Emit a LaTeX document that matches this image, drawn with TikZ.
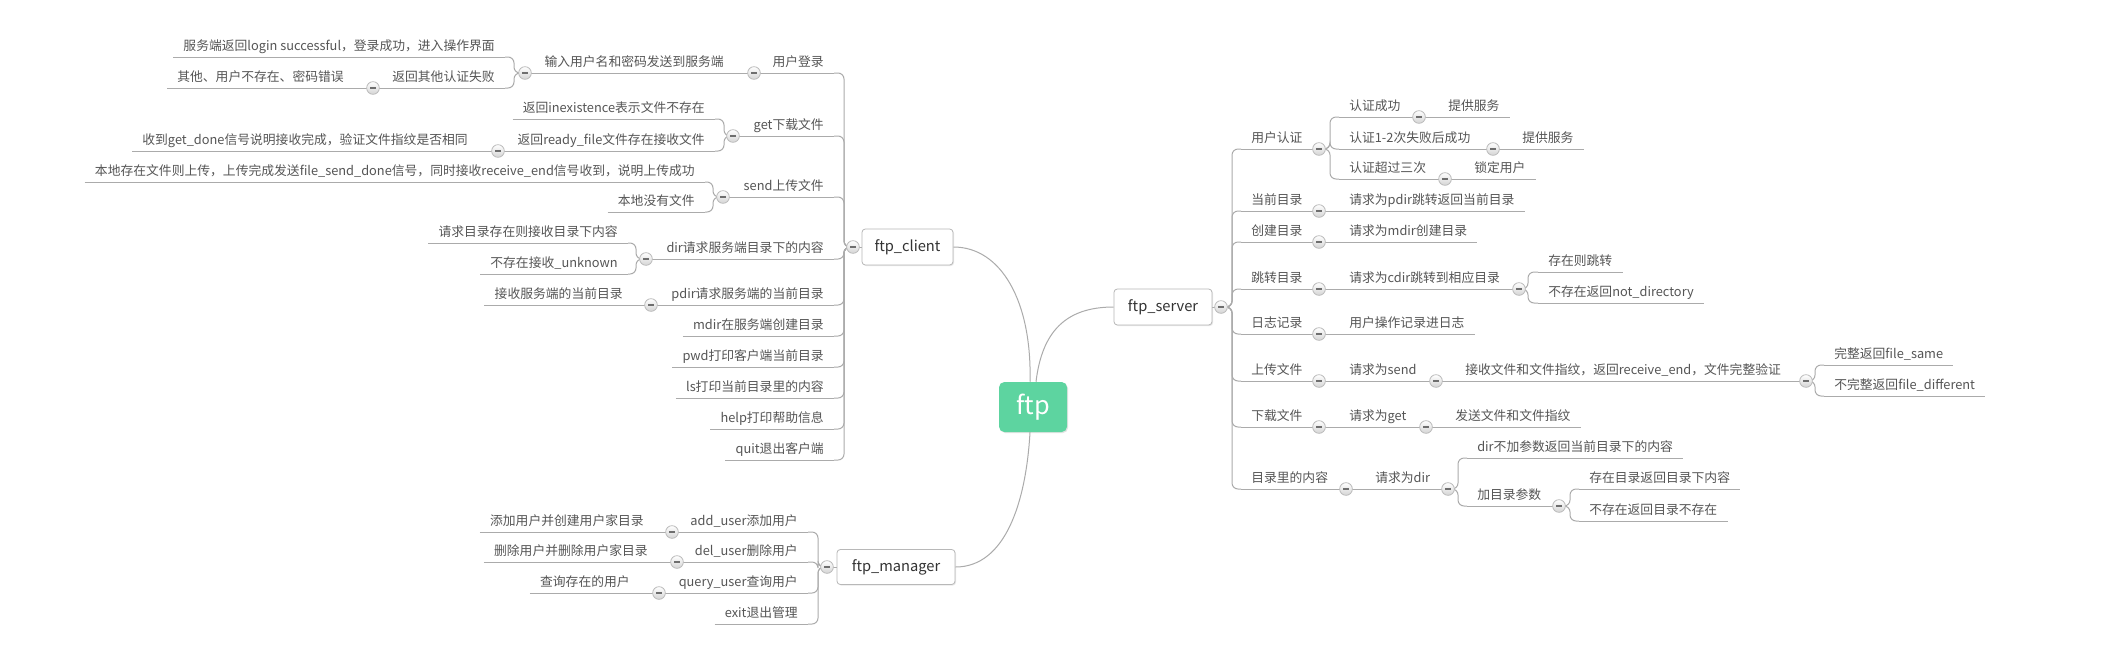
\documentclass[tikz,border=0pt]{standalone}
\usepackage{fontspec}
\setmainfont{Noto Sans CJK SC}
\usetikzlibrary{shadows}
\definecolor{txt}{HTML}{555555}
\definecolor{txtb}{HTML}{333333}
\definecolor{lncol}{HTML}{ABABAB}
\definecolor{boxb}{HTML}{B8B8B8}
\definecolor{btnb}{HTML}{BBBBBB}
\definecolor{btnf}{HTML}{D4D4D4}
\definecolor{btnm}{HTML}{6E6E6E}
\definecolor{ftpg}{HTML}{5DD4A0}
\pgfdeclarelayer{bg}
\pgfsetlayers{bg,main}
\begin{document}
\begin{tikzpicture}[x=0.75pt,y=-0.75pt,
  tbase/.style={font=\fontsize{9.6}{11}\selectfont, text=txt, inner xsep=7.5pt, inner ysep=0pt, text height=8pt, text depth=4.9pt},
  lt/.style={tbase, anchor=south east},
  rt/.style={tbase, anchor=south west},
  conn/.style={draw=lncol, line width=0.75pt, rounded corners=4.5pt},
  btn/.style={circle, draw=btnb, line width=0.6pt, minimum size=9.5pt, inner sep=0pt, top color=white, bottom color=btnf,
    path picture={\draw[btnm, line width=1.3pt] ([xshift=-2.2pt]path picture bounding box.center) -- ([xshift=2.2pt]path picture bounding box.center);}},
  mbox/.style={draw=boxb, line width=0.6pt, fill=white, rounded corners=2.5pt, inner sep=0pt, font=\fontsize{11}{13}\selectfont, text=txtb,
    drop shadow={opacity=0.18, shadow xshift=0.8pt, shadow yshift=-0.8pt}},
  rootbox/.style={fill=ftpg, rounded corners=4pt, inner sep=0pt, minimum width=51pt, minimum height=37.5pt, font=\fontsize{19}{22}\selectfont, text=white,
    drop shadow={opacity=0.22, shadow xshift=0.8pt, shadow yshift=-0.8pt}}
]
\begin{pgfonlayer}{bg}
\fill[white] (0,0) rectangle (2102,658);
\end{pgfonlayer}
\useasboundingbox (0,0) rectangle (2102,658);

% ---------- root and main branches ----------
\node[rootbox] (ftp) at (1033,407) {ftp};
\node[mbox, minimum width=68.25pt, minimum height=27pt] (client) at (907.5,247) {ftp\_client};
\node[mbox, minimum width=73.5pt, minimum height=27pt] (server) at (1163,307) {ftp\_server};
\node[mbox, minimum width=88.5pt, minimum height=26.25pt] (manager) at (896,567) {ftp\_manager};
\node[btn] (kclient) at (853,247) {};
\node[btn] (kserver) at (1221,307) {};
\node[btn] (kmanager) at (827,567) {};

% ---------- ftp_client ----------
\node[lt] (c1) at (834,73) {用户登录};
\node[btn] (kc1) at (754,73) {};
\node[lt] (c1a) at (734,73) {输入用户名和密码发送到服务端};
\node[btn] (kc1a) at (525,73) {};
\node[lt] (c1a1) at (505,57) {服务端返回login successful，登录成功，进入操作界面};
\node[lt] (c1a2) at (505,88) {返回其他认证失败};
\node[btn] (kc1a2) at (373,88) {};
\node[lt] (c1a2a) at (354,88) {其他、用户不存在、密码错误};

\node[lt] (c2) at (834,136) {get下载文件};
\node[btn] (kc2) at (733,136) {};
\node[lt] (c2a) at (715,119) {返回inexistence表示文件不存在};
\node[lt] (c2b) at (715,151) {返回ready\_file文件存在接收文件};
\node[btn] (kc2b) at (498,151) {};
\node[lt] (c2b1) at (478,151) {收到get\_done信号说明接收完成，验证文件指纹是否相同};

\node[lt] (c3) at (834,197) {send上传文件};
\node[btn] (kc3) at (723,197) {};
\node[lt] (c3a) at (705,182) {本地存在文件则上传，上传完成发送file\_send\_done信号，同时接收receive\_end信号收到，说明上传成功};
\node[lt] (c3b) at (705,212) {本地没有文件};

\node[lt] (c4) at (834,259) {dir请求服务端目录下的内容};
\node[btn] (kc4) at (646,259) {};
\node[lt] (c4a) at (628,243) {请求目录存在则接收目录下内容};
\node[lt] (c4b) at (628,274) {不存在接收\_unknown};

\node[lt] (c5) at (834,305) {pdir请求服务端的当前目录};
\node[btn] (kc5) at (651,305) {};
\node[lt] (c5a) at (633,305) {接收服务端的当前目录};

\node[lt] (c6) at (834,336) {mdir在服务端创建目录};
\node[lt] (c7) at (834,367) {pwd打印客户端当前目录};
\node[lt] (c8) at (834,398) {ls打印当前目录里的内容};
\node[lt] (c9) at (834,429) {help打印帮助信息};
\node[lt] (c10) at (834,460) {quit退出客户端};

% ---------- ftp_manager ----------
\node[lt] (m1) at (808,532) {add\_user添加用户};
\node[btn] (km1) at (672,532) {};
\node[lt] (m1a) at (654,532) {添加用户并创建用户家目录};
\node[lt] (m2) at (808,562) {del\_user删除用户};
\node[btn] (km2) at (677,562) {};
\node[lt] (m2a) at (658,562) {删除用户并删除用户家目录};
\node[lt] (m3) at (808,593) {query\_user查询用户};
\node[btn] (km3) at (659,593) {};
\node[lt] (m3a) at (640,593) {查询存在的用户};
\node[lt] (m4) at (808,624) {exit退出管理};

% ---------- ftp_server ----------
\node[rt] (s1) at (1241,149) {用户认证};
\node[btn] (ks1) at (1319,149) {};
\node[rt] (s1a) at (1339,117) {认证成功};
\node[btn] (ks1a) at (1419,117) {};
\node[rt] (s1a1) at (1438,117) {提供服务};
\node[rt] (s1b) at (1339,149) {认证1-2次失败后成功};
\node[btn] (ks1b) at (1493,149) {};
\node[rt] (s1b1) at (1512,149) {提供服务};
\node[rt] (s1c) at (1339,179) {认证超过三次};
\node[btn] (ks1c) at (1445,179) {};
\node[rt] (s1c1) at (1464,179) {锁定用户};

\node[rt] (s2) at (1241,211) {当前目录};
\node[btn] (ks2) at (1319,211) {};
\node[rt] (s2a) at (1339,211) {请求为pdir跳转返回当前目录};

\node[rt] (s3) at (1241,242) {创建目录};
\node[btn] (ks3) at (1319,242) {};
\node[rt] (s3a) at (1339,242) {请求为mdir创建目录};

\node[rt] (s4) at (1241,289) {跳转目录};
\node[btn] (ks4) at (1319,289) {};
\node[rt] (s4a) at (1339,289) {请求为cdir跳转到相应目录};
\node[btn] (ks4a) at (1519,289) {};
\node[rt] (s4a1) at (1538,272) {存在则跳转};
\node[rt] (s4a2) at (1538,303) {不存在返回not\_directory};

\node[rt] (s5) at (1241,334) {日志记录};
\node[btn] (ks5) at (1319,334) {};
\node[rt] (s5a) at (1339,334) {用户操作记录进日志};

\node[rt] (s6) at (1241,381) {上传文件};
\node[btn] (ks6) at (1319,381) {};
\node[rt] (s6a) at (1339,381) {请求为send};
\node[btn] (ks6a) at (1436,381) {};
\node[rt] (s6a1) at (1455,381) {接收文件和文件指纹，返回receive\_end，文件完整验证};
\node[btn] (ks6a1) at (1806,381) {};
\node[rt] (s6a1a) at (1824,365) {完整返回file\_same};
\node[rt] (s6a1b) at (1824,396) {不完整返回file\_different};

\node[rt] (s7) at (1241,427) {下载文件};
\node[btn] (ks7) at (1319,427) {};
\node[rt] (s7a) at (1339,427) {请求为get};
\node[btn] (ks7a) at (1426,427) {};
\node[rt] (s7a1) at (1445,427) {发送文件和文件指纹};

\node[rt] (s8) at (1241,489) {目录里的内容};
\node[btn] (ks8) at (1346,489) {};
\node[rt] (s8a) at (1365,489) {请求为dir};
\node[btn] (ks8a) at (1448,489) {};
\node[rt] (s8a1) at (1467,458) {dir不加参数返回当前目录下的内容};
\node[rt] (s8a2) at (1467,506) {加目录参数};
\node[btn] (ks8a2) at (1559,506) {};
\node[rt] (s8a2a) at (1579,489) {存在目录返回目录下内容};
\node[rt] (s8a2b) at (1579,521) {不存在返回目录不存在};

% ---------- connectors ----------
\begin{pgfonlayer}{bg}
% root links
\draw[conn] (client.east) .. controls +(48,0) and +(2,-80) .. ([xshift=-2.25pt]ftp.north);
\draw[conn] ([xshift=2.25pt]ftp.north) .. controls +(6,-50) and +(-48,0) .. (server.west);
\draw[conn] ([xshift=-2.25pt]ftp.south) .. controls +(-4,70) and +(50,0) .. (manager.east);
\draw[conn] (kclient.center) -- (client.west);
\draw[conn] (kserver.center) -- (server.east);
\draw[conn] (kmanager.center) -- (manager.west);

% client spine
\foreach \n in {c1,c2,c3,c4,c5,c6,c7,c8,c9,c10}
  \draw[conn] (kclient.center) -- ++(-9,0) |- (\n.south east);
% client underlines (non-leaf)
\foreach \n in {c1,c2,c3,c4,c5,c1a,c1a2,c2b}
  \draw[conn] (k\n.center) -- (\n.south east);
% client leaves
\foreach \n in {c6,c7,c8,c9,c10,c1a1,c1a2a,c2a,c2b1,c3a,c3b,c4a,c4b,c5a}
  \draw[conn] (\n.south west) -- (\n.south east);
\draw[conn] (kc1.center) -- (c1a.south east);
\foreach \n in {c1a1,c1a2}
  \draw[conn] (kc1a.center) -- ++(-11,0) |- (\n.south east);
\draw[conn] (kc1a2.center) -- (c1a2a.south east);
\foreach \n in {c2a,c2b}
  \draw[conn] (kc2.center) -- ++(-9,0) |- (\n.south east);
\draw[conn] (kc2b.center) -- (c2b1.south east);
\foreach \n in {c3a,c3b}
  \draw[conn] (kc3.center) -- ++(-10,0) |- (\n.south east);
\foreach \n in {c4a,c4b}
  \draw[conn] (kc4.center) -- ++(-10,0) |- (\n.south east);
\draw[conn] (kc5.center) -- (c5a.south east);

% manager
\foreach \n in {m1,m2,m3,m4}
  \draw[conn] (kmanager.center) -- ++(-9,0) |- (\n.south east);
\foreach \n in {m1,m2,m3}
  \draw[conn] (k\n.center) -- (\n.south east);
\foreach \n in {m4,m1a,m2a,m3a}
  \draw[conn] (\n.south west) -- (\n.south east);
\draw[conn] (km1.center) -- (m1a.south east);
\draw[conn] (km2.center) -- (m2a.south east);
\draw[conn] (km3.center) -- (m3a.south east);

% server spine
\foreach \n in {s1,s2,s3,s4,s5,s6,s7,s8}
  \draw[conn] (kserver.center) -- ++(11,0) |- (\n.south west);
\foreach \n in {s1,s2,s3,s4,s5,s6,s7,s8,s1a,s1b,s1c,s4a,s6a,s6a1,s7a,s8a,s8a2}
  \draw[conn] (\n.south west) -- (k\n.center);
\foreach \n in {s1a1,s1b1,s1c1,s2a,s3a,s4a1,s4a2,s5a,s6a1a,s6a1b,s7a1,s8a1,s8a2a,s8a2b}
  \draw[conn] (\n.south west) -- (\n.south east);
\foreach \n in {s1a,s1b,s1c}
  \draw[conn] (ks1.center) -- ++(11,0) |- (\n.south west);
\draw[conn] (ks1a.center) -- (s1a1.south west);
\draw[conn] (ks1b.center) -- (s1b1.south west);
\draw[conn] (ks1c.center) -- (s1c1.south west);
\draw[conn] (ks2.center) -- (s2a.south west);
\draw[conn] (ks3.center) -- (s3a.south west);
\draw[conn] (ks4.center) -- (s4a.south west);
\foreach \n in {s4a1,s4a2}
  \draw[conn] (ks4a.center) -- ++(9,0) |- (\n.south west);
\draw[conn] (ks5.center) -- (s5a.south west);
\draw[conn] (ks6.center) -- (s6a.south west);
\draw[conn] (ks6a.center) -- (s6a1.south west);
\foreach \n in {s6a1a,s6a1b}
  \draw[conn] (ks6a1.center) -- ++(9,0) |- (\n.south west);
\draw[conn] (ks7.center) -- (s7a.south west);
\draw[conn] (ks7a.center) -- (s7a1.south west);
\draw[conn] (ks8.center) -- (s8a.south west);
\foreach \n in {s8a1,s8a2}
  \draw[conn] (ks8a.center) -- ++(10,0) |- (\n.south west);
\foreach \n in {s8a2a,s8a2b}
  \draw[conn] (ks8a2.center) -- ++(11,0) |- (\n.south west);
\end{pgfonlayer}
\end{tikzpicture}
\end{document}
